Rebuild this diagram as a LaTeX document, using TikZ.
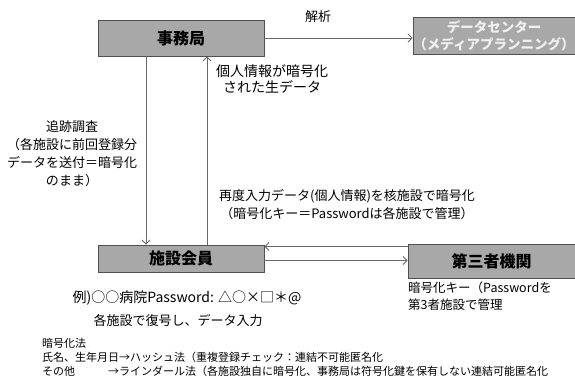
\documentclass[tikz,border=0pt]{standalone}
\usepackage{fontspec}
\setmainfont{Noto Sans CJK JP}
\usetikzlibrary{arrows.meta}
\definecolor{boxgray}{RGB}{168,168,168}
\definecolor{boxline}{RGB}{80,80,80}
\definecolor{linegray}{RGB}{105,105,105}
\definecolor{dctext}{RGB}{240,240,240}
\tikzset{
  grbox/.style={draw=boxline, line width=0.8pt, fill=boxgray, inner sep=0pt, font=\fontsize{16}{18}\selectfont\bfseries, text=black},
  solidbox/.style={draw=boxline, line width=0.8pt, fill=boxgray, inner sep=0pt},
  arr/.style={draw=linegray, line width=0.9pt, -{Straight Barb[length=4pt,width=8pt]}},
  lbl/.style={inner sep=0pt, font=\fontsize{13}{18}\selectfont, text=black},
  small/.style={inner sep=0pt, font=\fontsize{11}{14}\selectfont, text=black, anchor=north west, align=left},
}
\begin{document}
\begin{tikzpicture}[x=1pt,y=-1pt]
\useasboundingbox (0,0) rectangle (575,380);
\fill[white] (0,0) rectangle (575,380);
% boxes
\node[grbox, minimum width=166pt, minimum height=36pt] (jimu) at (181,38) {事務局};
\node[solidbox, minimum width=162pt, minimum height=37pt, align=center, font=\fontsize{13.5}{17}\selectfont\bfseries, text=dctext] (dc) at (494,35.5) {データセンター\\（メディアプランニング）};
\node[grbox, minimum width=166pt, minimum height=27pt] (shisetsu) at (181,258.5) {施設会員};
\node[grbox, minimum width=167pt, minimum height=34pt] (third) at (491.5,261) {第三者機関};
% connectors
\draw[arr] (jimu.east) -- (jimu.east -| dc.west);
\draw[arr] ([xshift=-35pt]jimu.south) -- ([xshift=-35pt]shisetsu.north);
\draw[arr] ([xshift=26pt]shisetsu.north) -- ([xshift=26pt]jimu.south);
\draw[arr] ([yshift=-2pt]shisetsu.east) -- ([yshift=-2pt]shisetsu.east -| third.west);
\draw[arr] ([yshift=12pt]shisetsu.east -| third.west) -- ([yshift=12pt]shisetsu.east);
% labels
\node[lbl] (l1) at (318,17) {解析};
\node[lbl, align=center, font=\fontsize{14}{16}\selectfont] (l2) at (272,79) {個人情報が暗号化\\された生データ};
\node[lbl, align=center] (l3) at (72,154) {追跡調査\\（各施設に前回登録分\\データを送付＝暗号化\\のまま）};
\node[lbl, align=center] (l4) at (347,205) {再度入力データ(個人情報)を核施設で暗号化\\（暗号化キー＝Passwordは各施設で管理）};
\node[lbl, font=\fontsize{14}{18}\selectfont] (l5) at (187,298) {例)○○病院Password: △○×□＊@};
\node[lbl] (l6) at (178,321) {各施設で復号し、データ入力};
\node[lbl, anchor=north west, align=left, font=\fontsize{12.5}{17}\selectfont] (l7) at (408,282) {暗号化キー（Passwordを\\第3者施設で管理};
\node[small] (l8) at (42,338) {暗号化法\\氏名、生年月日→ハッシュ法（重複登録チェック：連結不可能匿名化\\その他\hspace{3em}→ラインダール法（各施設独自に暗号化、事務局は符号化鍵を保有しない連結可能匿名化};
\end{tikzpicture}
\end{document}
